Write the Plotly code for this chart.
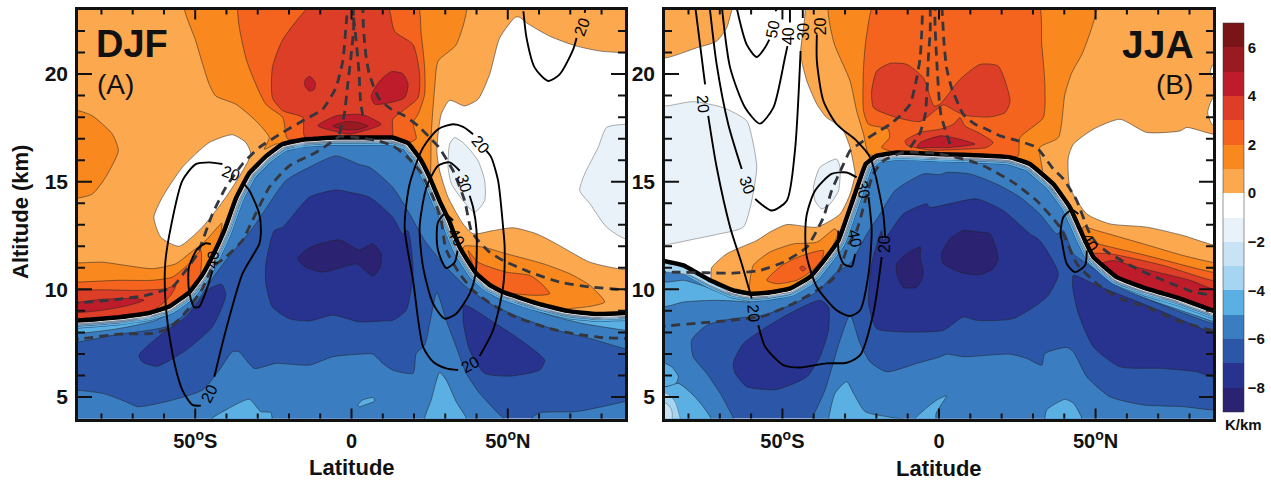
import plotly.graph_objects as go

# colour bands (K/km)
levels = [-8.5, -7.5, -6.5, -5.5, -4.5, -3.5, -2.5, -1.5, -0.5, 0.5, 1.5, 2.5, 3.5, 4.5, 5.5, 6.5]
colors = ['#2B2272', '#28328F', '#2C57A8', '#3B7DC1', '#5AB0E3', '#A5D5F1', '#C9E3F5', '#EAF2F9',
          '#FFFFFF', '#FBA84F', '#F9881F', '#F4641F', '#DD3E27', '#BE1C2B', '#991A20', '#7A1517']
C = {lv: c for lv, c in zip(levels, colors)}
cbar_ticks = [-8, -6, -4, -2, 0, 2, 4, 6]
lat_ticks = [-50, 0, 50]
lat_labels = ['50<sup>o</sup>S', '0', '50<sup>o</sup>N']
lat_minor = [-80, -70, -60, -40, -30, -20, -10, 10, 20, 30, 40, 60, 70, 80]
alt_ticks = [5, 10, 15, 20]
alt_minor = [6, 7, 8, 9, 11, 12, 13, 14, 16, 17, 18, 19, 21, 22]

# ---------- PANEL A (DJF) ----------
a_trop_lat = [-95, -87.5, -74.4, -64.7, -58.3, -52, -47.8, -44.6, -40.7, -36.9, -32.7, -27.2, -22, -15.7, -4.8, 3, 13, 18, 21.8, 25, 28.2, 31.2, 32.5, 34.6, 37.8, 40, 44.2, 48.5, 59.3, 68.9, 78.5, 87.5, 95]
a_trop_alt = [8.5, 8.55, 8.7, 8.9, 9.2, 9.85, 10.65, 11.5, 12.73, 14.25, 15.4, 16.2, 16.75, 16.95, 17.05, 17.05, 17.05, 16.8, 16.1, 15.2, 14.1, 13.2, 12.7, 11.96, 11.19, 10.72, 10.2, 9.87, 9.35, 9.0, 8.85, 8.9, 8.9]

# tropospheric regions, band -5.5
a_m5_bottom_lat = [-95, -79.7, -72.2, -68.5, -59.4, -47.7, -42.3, -38.1, -36, -31.1, -24.2, -13.5, -6, 2.5, 6.8, 10, 13.2, 19.7, 20.7, 23.4, 27.3, 30.3, 33.5, 36.7, 41, 47.4, 49.6, 49.6, -95]
a_m5_bottom_alt = [5.25, 5.17, 4.78, 4.55, 4.78, 5.32, 6.25, 7.1, 7.1, 6.33, 6.56, 6.48, 6.87, 6.99, 6.99, 6.56, 6.25, 6.1, 7.02, 7.41, 9.84, 8.56, 7.33, 6.1, 5.17, 4.17, 3.9, 3.5, 3.5]
a_m5_right_lat = [57.6, 60.2, 72, 82.7, 87.5, 95, 95, 57]
a_m5_right_alt = [4.01, 4.27, 4.32, 4.63, 4.78, 4.78, 3.5, 3.5]
a_m5_top_lat = [-95, -74.4, -59.4, -53, -47.7, -43.4, -40.2, -34.9, -32.2, -28.5, -21, -13.5, -5, 2.5, 5.8, 13.2, 18.6, 23.4, 29.3, 36.7, 45.3, 54.9, 65.6, 76.3, 87.5, 95, 95, -95]
a_m5_top_alt = [7.64, 7.92, 8.26, 8.87, 9.8, 10.72, 11.34, 12.27, 12.73, 13.5, 15.05, 15.67, 16.2, 15.8, 15.67, 14.74, 13.5, 12.27, 11.19, 10.11, 9.26, 8.64, 8.1, 7.72, 7.25, 7.2, 23, 23]
# band -4.5
a_m4_a_lat = [-45.5, -40.2, -32.7, -29, -25.8, -25.8, -45.5]
a_m4_a_alt = [3.9, 4.4, 4.89, 4.32, 4.27, 3.5, 3.5]
a_m4_b_lat = [2, 3.6, 6.9, 7.4, 4.2, 2.6]
a_m4_b_alt = [4.63, 4.86, 4.97, 4.81, 4.63, 4.55]
a_m4_c_lat = [23.4, 25.5, 28.2, 30.3, 33.5, 36.7, 36.7, 23.4]
a_m4_c_alt = [4.01, 4.86, 6.13, 5.79, 4.78, 4.01, 3.5, 3.5]
a_m4_sp_lat = [-52.5, -57.3, -62.6, -74.4, -87.2, -95]
a_m4_sp_alt = [9.8, 9.03, 8.56, 8.18, 7.95, 7.9]
a_m4_np_lat = [46.4, 54.9, 63.4, 74.1, 87.5, 95]
a_m4_np_alt = [9.88, 9.26, 8.8, 8.41, 8.1, 8.0]
# band -7.5
a_m7_c_lat = [-24.7, -27.4, -27.4, -25.3, -19.9, -13.5, -6, 2.5, 10, 13.2, 17.5, 19.7, 18, 16.4, 13.2, 5.8, -0.6, -5, -13.5, -22]
a_m7_c_alt = [12.73, 11.19, 10.26, 9.18, 8.64, 8.53, 8.8, 8.49, 8.53, 8.56, 9.03, 10.88, 12.73, 12.58, 13.35, 14.28, 14.51, 14.62, 14.28, 12.89]
a_m7_s_lat = [-68, -60.5, -53, -45.5, -41.5, -40.2, -44.5, -53, -62.1, -66.9]
a_m7_s_alt = [6.94, 7.95, 8.72, 10.03, 10.23, 9.72, 8.26, 7.17, 6.43, 6.63]
a_m7_n_lat = [36.2, 45.3, 54.9, 61.8, 60.2, 50.6, 42.6, 37.8, 35.7]
a_m7_n_alt = [9.26, 8.49, 7.56, 6.71, 6.25, 5.97, 6.1, 7.17, 8.56]
# band -8.5
a_m8_lat = [-17.2, -13.5, -3.9, 1.4, 2.56, 6.8, 9.5, 9, 6.8, 2.6, 1.4, -9.2, -14.6]
a_m8_alt = [11.42, 11.93, 12.3, 11.88, 11.83, 12.11, 11.65, 10.96, 10.62, 11.11, 11.19, 10.8, 11.03]

# stratospheric regions
a_w_lat = [-38.1, -33.8, -32.2, -35.4, -40.2, -47.7, -55.2, -61, -63.2, -60.5, -54.1, -45.5]
a_w_alt = [17.18, 16.82, 16.28, 15.36, 14.28, 12.89, 12, 12.42, 13.35, 14.28, 15.67, 16.82]
a_w_n_lat = [52.4, 47.4, 44.2, 40.5, 36.2, 31.4, 28.7, 27.3, 28.2, 30.9, 35.7, 38.9, 45.3, 51.7, 59.2, 65.6, 76.3, 87.5, 95, 95, 87.5, 79.5, 72, 63.4, 56, 53.8]
a_w_n_alt = [22.64, 21.68, 19.99, 18.83, 18.52, 18.78, 18.13, 16.44, 15.51, 14.28, 13.04, 12.58, 12.73, 12.86, 12.58, 12.11, 11.26, 10.91, 10.91, 21, 20.99, 21.07, 21.3, 21.76, 22.38, 22.64]
a_pale_n_lat = [31.4, 33, 36.2, 40.5, 42.6, 42.6, 39.4, 35.7, 32, 30.9]
a_pale_n_alt = [16.75, 17.05, 16.75, 15.97, 15.05, 14.12, 13.58, 14.12, 14.89, 15.66]
a_pale_e_lat = [87.5, 81.6, 78.9, 74.6, 73, 76.3, 81.6, 87.5, 95, 95]
a_pale_e_alt = [17.67, 17.52, 16.59, 15.36, 14.59, 13.97, 12.89, 12.35, 12.35, 17.67]
a_p1_w_lat = [-95, -87.2, -82.9, -76.5, -74.6, -78.7, -82.9, -87.2, -95]
a_p1_w_alt = [18.29, 18.29, 18.06, 17.21, 16.44, 15.2, 14.43, 14.25, 14.25]
a_p1_c_lat = [-24.2, -27.9, -26.3, -30.6, -37, -43.4, -45.5, -49.8, -53.5, 36.5, 33.5, 27.7, 26.6, 25.5, 25]
a_p1_c_alt = [16.75, 16.51, 17.05, 17.83, 18.6, 18.98, 19.52, 21.53, 23.5, 23.5, 21.37, 20.6, 19.37, 17.21, 15.2]
a_p2_c_lat = [-20.5, -22, -27.4, -33.8, -35.7, 20.5, 22.3, 23.4, 23.4, 21.3, 19.7, 20.7]
a_p2_c_alt = [17, 17.98, 18.6, 20.76, 23.5, 23.5, 21.84, 20.3, 19.06, 18.13, 17.75, 17.0]
a_p3_c_lat = [-15, -15.6, -22, -25.3, -25.3, -22, -10.5, 10.8, 13.8, 19.7, 21.8, 21.3, 16.4, 13.2, 13.2, 13]
a_p3_c_alt = [17.1, 17.98, 18.3, 18.9, 20.3, 21.6, 23.5, 23.5, 21.99, 21.37, 19.99, 18.9, 18.29, 17.9, 17.4, 17.1]
a_p4_dot_lat = [-13.3, -11.6, -11.9, -13.5, -14.9, -14.8]
a_p4_dot_alt = [19.89, 19.6, 19.29, 19.21, 19.45, 19.75]
a_p4_blob_lat = [6.3, 9, 12.7, 16.4, 18.1, 17, 12.2, 7.4]
a_p4_blob_alt = [18.98, 19.68, 20.11, 20.02, 19.52, 18.9, 18.67, 18.6]
a_p4_lens_lat = [-10.8, -4.9, 2.5, 4.7, 9.5, 5.8, -0.6, -5]
a_p4_lens_alt = [17.6, 18.06, 18.13, 18.06, 17.67, 17.44, 17.21, 17.33]
a_p5_lens_lat = [-6, -1.7, 2, 5.2, 2.6, -0.6, -2.8]
a_p5_lens_alt = [17.59, 17.79, 17.75, 17.59, 17.44, 17.41, 17.44]
a_n1_lat = [35.5, 36, 42.1, 49.6, 61.3, 69.9, 76.3, 81, 76.3, 68]
a_n1_alt = [11.6, 12, 11.96, 11.65, 11.19, 10.72, 10.18, 9.41, 9.21, 9.1]
a_n2_lat = [37.3, 40.5, 49.6, 57, 60.8, 63.4, 59.2, 49.6, 40]
a_n2_alt = [11.8, 11.26, 10.8, 10.65, 10.26, 9.8, 9.72, 9.88, 10.8]
a_s1_lat = [-95, -87.2, -79.7, -72.2, -63.7, -56.2, -52, -46.6, -41.5, -42]
a_s1_alt = [11.26, 11.23, 11.26, 11.11, 10.96, 11.19, 11.65, 12.27, 13.07, 12.5]
a_s2_lat = [-95, -87.2, -74.4, -63.7, -57.3, -52, -48.2, -48.5]
a_s2_alt = [10.34, 10.34, 10.42, 10.42, 10.57, 11.19, 11.8, 10.6]
a_s3_lat = [-95, -87.2, -79.7, -69, -59.4, -56.2, -57.8, -60.5]
a_s3_alt = [9.95, 9.95, 9.98, 9.95, 10.03, 10.18, 9.72, 9.34]
a_s4_lat = [-95, -87.2, -79.7, -69, -66.4, -71.2, -79.7, -87.2, -95]
a_s4_alt = [9.4, 9.41, 9.54, 9.57, 9.49, 9.26, 9.03, 8.92, 8.9]

# wind isotachs, panel A
a_w1_lat = [-41.3, -45.5, -49.8, -54.1, -57.8, -59.6, -59.4, -57.3, -54.1, -50.9, -48.2]
a_w1_alt = [15.82, 15.9, 15.82, 15.05, 12.89, 11.19, 9.18, 7.02, 5.32, 4.63, 4.6]
a_w2_lat = [-43.9, -40.2, -34.9, -29.5, -29, -29.5, -32.7, -34.9]
a_w2_alt = [5.94, 8.1, 10.72, 12.11, 12.58, 13.5, 14.59, 14.97]
a_w3_lat = [-45, -46.6, -49.3, -52, -52, -50.4, -48.8, -46.1, -44.5]
a_w3_alt = [12.1, 12.14, 11.88, 11.03, 9.95, 9.18, 9.18, 10.1, 10.88]
a_w4_lat = [38.9, 35.7, 32.5, 27.7, 22.9, 18.6, 17, 19.7, 22.9, 26.1, 30.3, 34.1]
a_w4_alt = [17.21, 17.55, 17.67, 17.44, 16.59, 14.89, 12.89, 10.42, 7.33, 6.64, 6.33, 6.25]
a_w5_lat = [41, 45.3, 48.5, 49, 48.5, 46.9, 44.7, 43.1]
a_w5_alt = [6.9, 8.1, 10.11, 11.96, 12.89, 15.05, 16.13, 16.44]
a_w6_lat = [34.6, 31.4, 27.7, 24, 21.8, 22.9, 26.1, 29.8, 33.5, 37.8, 39.7, 40, 38.9, 37.8]
a_w6_alt = [15.51, 15.9, 15.74, 14.74, 12.89, 11.03, 9.34, 8.64, 8.87, 9.8, 10.72, 12.73, 13.81, 14.35]
a_w7_lat = [32.5, 29.8, 27.7, 27.3, 27.7, 30.3, 33, 33.9]
a_w7_alt = [13.2, 13.5, 13.12, 12.73, 11.8, 10.99, 11.26, 11.8]
a_w8_lat = [55, 56, 58.6, 62.9, 66.6, 70.9, 72]
a_w8_alt = [22.92, 21.68, 20.3, 19.68, 19.99, 21.14, 21.68]
a_w9_lat = [74.6, 75]
a_w9_alt = [22.84, 23.2]
a_lab_txt = ['20', '20', '40', '20', '20', '30', '40', '20']
a_lab_lat = [-38.4, -45.5, -44.5, 41.3, 38, 36.2, 33.5, 73.6]
a_lab_alt = [15.39, 5.17, 11.4, 16.75, 6.53, 14.94, 12.4, 22.18]
a_lab_rot = [20, -62, -85, 50, -30, 75, 60, -70]

# dashed isentropes, panel A
a_d1_lat = [-95, -87.2, -74.4, -65.8, -57.3, -53, -49.3, -44.5, -40.2, -34.9, -29.5, -22, -15.6, -9.2, -5, -2.8, -1.8, -1.2]
a_d1_alt = [9.3, 9.37, 9.54, 9.72, 10.11, 10.88, 11.65, 13.5, 14.74, 15.82, 16.59, 17.29, 17.83, 18.37, 19.37, 20.6, 22.15, 23.2]
a_d2_lat = [95, 87.5, 76.3, 66.6, 57, 48.5, 44.2, 40.5, 38.3, 36.2, 32.5, 28, 24.5, 21.3, 17, 12.7, 9, 7, 5.6, 4.7, 4.2, 3.8, 3.6]
a_d2_alt = [9.98, 9.98, 10.11, 10.34, 10.8, 11.34, 11.73, 12.27, 12.73, 14.12, 15.51, 16.59, 17.13, 17.59, 18.06, 18.37, 18.83, 19.45, 20.06, 20.76, 21.45, 22.22, 23.2]
a_d3_lat = [-3.9, -2.3, -1.2, -0.2, 0.7, 0.5]
a_d3_alt = [17.21, 18.13, 19.52, 20.76, 22.15, 23.2]
a_d4_lat = [3.6, 2.9, 2.4, 2, 1, 0]
a_d4_alt = [18.06, 18.75, 20.06, 20.76, 22.22, 23.2]
a_d5_lat = [-95, -85.6, -74.4, -63.7, -58.4, -53, -47.7, -44.5, -40.2, -34.9, -31.7, -26.3, -19.9, -11.4, -6.6, -3.9, 2, 8.4, 13.2, 17.5, 21.8, 26.1, 28.7, 30, 31.4, 34.6, 38.9, 45.3, 52.8, 63.4, 72, 80.5, 87.5, 95]
a_d5_alt = [7.6, 7.72, 7.92, 7.95, 8.18, 8.95, 10.03, 11.03, 11.5, 12.27, 13.2, 14.74, 15.74, 16.36, 16.82, 17.1, 17.05, 16.9, 16.67, 16.2, 15.51, 14.28, 13.2, 11.96, 11.5, 10.72, 9.95, 9.26, 8.69, 8.18, 7.92, 7.76, 7.72, 7.7]

# ---------- PANEL B (JJA) ----------
b_trop_lat = [-95, -87.5, -81.6, -73.1, -65.7, -60.3, -55, -47.6, -41.2, -35.9, -32.1, -27.2, -23.4, -20, -13.5, 0.4, 7.8, 22.7, 29, 36.5, 41.8, 46.6, 49.3, 56.7, 66.3, 77, 87.1, 95]
b_trop_alt = [11.4, 11.31, 11.11, 10.42, 9.95, 9.8, 9.84, 10.03, 10.57, 11.5, 12.27, 14.28, 15.82, 16.2, 16.36, 16.28, 16.25, 16.13, 15.82, 14.89, 13.81, 12.27, 11.5, 10.57, 10.03, 9.57, 9.03, 8.6]

b_m5_top_lat = [-64.4, -69.9, -74.2, -78.5, -79, -74.2, -65.7, -56.1, -47.6, -39, -32.7, -28.4, -23, -18.8, -14, -5, 0.4, 2.4, 9.9, 18.4, 25.9, 32.2, 37.6, 39.7, 42.9, 47.2, 56.7, 66.3, 77, 87.6, 95, 95, -95, -95, -64.4]
b_m5_top_alt = [3.63, 5.17, 6.1, 6.87, 7.64, 8.33, 8.64, 8.8, 9.26, 9.88, 10.8, 11.19, 12.58, 13.5, 14.59, 15.36, 15.33, 15.43, 15.36, 14.89, 14.28, 13.5, 12.58, 12.73, 11.65, 11.19, 10.26, 9.57, 8.95, 8.41, 8.3, 23, 23, 3.5, 3.5]
b_m5_c_lat = [-40.6, -36.4, -31.6, -28.4, -25.2, -22, -16.7, -7.1, 0.4, 2.4, 7.75, 22.7, 28, 32.8, 33.8, 40.8, 42.9, 47.2, 54.6, 65.3, 78, 87.1, 95, 95, -40.6]
b_m5_c_alt = [3.93, 5.32, 7.64, 8.8, 7.48, 6.63, 6.17, 6.56, 6.87, 6.99, 6.87, 6.99, 6.79, 6.48, 7.02, 7.3, 7.1, 5.94, 5.01, 4.63, 4.55, 4.4, 4.4, 3.5, 3.5]
b_m4_l_lat = [-95, -86.4, -81.6, -74.2, -65.7, -60.3, -65.7, -72, -81.6, -87, -95]
b_m4_l_alt = [10.34, 10.34, 10.42, 10.11, 9.72, 9.41, 9.46, 9.49, 9.41, 9.21, 9.21]
b_m4_lobe_lat = [-95, -87.5, -85.4, -83.2, -84.3, -87.5, -95]
b_m4_lobe_alt = [6.56, 6.56, 6.4, 5.94, 5.56, 5.48, 5.48]
b_m4_low_lat = [-87, -83.2, -78.5, -75.3, -72.6, -72.6, -95, -95]
b_m4_low_alt = [5.48, 5.63, 5.09, 4.55, 3.93, 3.5, 3.5, 5.48]
b_m4_a_lat = [-35.3, -33.2, -29.5, -27.3, -23.6, -15.6, -9.8, -9.8, -35.3]
b_m4_a_alt = [3.93, 5.17, 5.71, 5.17, 4.32, 4.06, 3.9, 3.5, 3.5]
b_m4_b_lat = [-8.2, -8.2, -0.7, 2.4, 0.5, -1, -1]
b_m4_b_alt = [3.5, 3.9, 4.86, 5.05, 4.6, 4.2, 3.5]
b_m4_c_lat = [33.8, 34.4, 40.2, 42.9, 45.6, 45.6, 33.8]
b_m4_c_alt = [4.01, 4.4, 4.89, 4.71, 4.01, 3.5, 3.5]
b_m4_np_lat = [52, 56.7, 66.3, 77, 87.1, 95]
b_m4_np_alt = [10.9, 10.18, 9.57, 9.03, 8.53, 8.2]
b_m3_c_lat = [-95, -87, -84.3, -82.7, -82.7, -95]
b_m3_c_alt = [5, 5.17, 4.78, 4.01, 3.5, 3.5]
b_m2_c_lat = [-95, -87, -85.4, -85.4, -95]
b_m2_c_alt = [4.8, 4.7, 4.4, 3.9, 3.5]
b_m3_l_lat = [-95, -86.4, -79.5, -73.1, -66.7]
b_m3_l_alt = [10.8, 10.8, 10.65, 10.18, 9.8]
b_m7_c_lat = [-17.8, -11.4, -3.9, -2.9, 12, 20.5, 29, 32.2, 38.1, 34.4, 23.7, 12, 7.75, 1.4, -11.4, -19.9, -22.5, -21.5, -18.3]
b_m7_c_alt = [12.27, 13.5, 13.97, 13.81, 14.2, 13.66, 12.58, 12.27, 10.72, 9.64, 8.64, 8.56, 8.72, 8.1, 8.02, 8.18, 9.34, 11.19, 12.73]
b_m7_s_lat = [-65.7, -62.5, -49.7, -38, -35.3, -35.3, -38, -42.2, -51.8, -61.4, -65.1]
b_m7_s_alt = [6.56, 7.48, 8.72, 9.49, 9.18, 8.1, 6.87, 5.94, 5.35, 5.48, 6.1]
b_m7_n_lat = [42.9, 50.4, 61, 71.6, 87.1, 95, 95, 87.1, 82.3, 70.6, 57.8, 49.3, 44.5, 42.7]
b_m7_n_alt = [10.65, 10.18, 9.57, 8.95, 8.02, 8, 5.9, 5.94, 6.17, 6.33, 6.4, 7.33, 8.87, 10.1]
b_m8_a_lat = [-13.5, -10.3, -6, -6, -5, -7.1, -11.4, -13.5]
b_m8_a_alt = [11.19, 11.65, 11.96, 11.5, 10.72, 10.1, 10.1, 10.72]
b_m8_b_lat = [3.5, 7.75, 13, 16.3, 18.9, 17.3, 13.1, 7.75, 1.4, 0.8]
b_m8_b_alt = [12.34, 12.73, 12.66, 12.58, 11.42, 10.96, 10.69, 10.75, 11.19, 11.65]

b_w_s_lat = [-95, -87, -77.4, -71, -67.8, -64.4, -43.3, -44.2, -42.2, -39, -35.9, -31.6, -30, -28.4, -27.3, -26.8, -28.4, -31.6, -39, -48.6, -54, -58.2, -67.8, -72.6]
b_w_s_alt = [20.8, 20.76, 21.22, 21.53, 22.15, 23.5, 23.5, 20.91, 19.68, 18.6, 17.98, 17.59, 17.21, 16.59, 15.82, 15.36, 14.43, 13.5, 12.89, 13.01, 12.66, 12.27, 11.65, 11]
b_pale_a_lat = [-95, -87, -78.5, -68.9, -61.4, -59.3, -58.2, -59.8, -62.5, -71, -78, -87, -95]
b_pale_a_alt = [18.52, 18.52, 18.72, 18.44, 17.83, 16.75, 15.67, 14.12, 12.89, 12.55, 12.34, 12.08, 12.08]
b_pale_b_lat = [-40.1, -38, -32.7, -31.6, -32.1, -34.8, -37.5, -39.6]
b_pale_b_alt = [14.74, 15.67, 16.05, 15.67, 14.58, 13.97, 13.74, 14.12]
b_w_n_lat = [41.3, 42.9, 49.3, 57.8, 66.3, 77, 79.1, 87.6, 95, 95, 87.1, 78, 66.3, 54.6, 47.2, 41.8]
b_w_n_alt = [16.13, 16.74, 17.44, 17.9, 17.29, 17.36, 17.52, 17.21, 17.21, 11.9, 12.08, 12.5, 12.89, 13.04, 13.5, 14.74]
b_w_e1_lat = [95, 87.6, 86.6, 87.6, 95]
b_w_e1_alt = [20.4, 20.45, 20.1, 19.8, 19.8]
b_w_e2_lat = [95, 87.6, 85.8, 87.6, 95]
b_w_e2_alt = [19, 18.9, 18.2, 17.6, 17.6]
b_p1_c_lat = [-22.5, -24.1, -26.3, -28.4, -33.7, -34.8, 50, 46.1, 42.4, 40.2, 38.1, 32.2, 33]
b_p1_c_alt = [16.28, 17.21, 18.29, 19.68, 21.53, 23.5, 23.5, 21.07, 20.06, 19.06, 17.05, 16.59, 15.4]
b_p2_c_lat = [-18.3, -15.8, -16.2, -22.5, -24.1, -24.1, -23.1, -19.9, 31.2, 32.8, 33.8, 33.3, 25.9, 25.3]
b_p2_c_alt = [16.59, 17.05, 17.44, 17.67, 18.29, 20.3, 21.84, 23.5, 23.5, 21.37, 19.52, 17.98, 17.05, 16.2]
b_p3_top_lat = [-21.5, -19.9, -15.6, -10.3, -5, -1.6, 0.3, 6.7, 13.1, 18.9, 22.7, 21.1, 16.3, 9.3, 6.2, 1.4, -0.7, -6, -13.5, -20.9]
b_p3_top_alt = [19.21, 20.14, 20.5, 20.45, 19.83, 18.52, 18.6, 19.75, 20.45, 20.37, 18.75, 18.21, 18.01, 18.06, 18.21, 18.57, 18.37, 17.8, 17.98, 18.44]
b_p3_low_lat = [-10.8, -6, 0.4, 4.6, 6.7, 8.3, 12.5, 17.3, 15.2, 7.75, -2.9, -10.3]
b_p3_low_alt = [16.9, 17.29, 17.44, 17.67, 17.98, 17.59, 17.29, 16.82, 16.59, 16.51, 16.47, 16.71]
b_p4_lens_lat = [-6, 0.4, 3.5, 11.5, 3.5, -2.9, -7]
b_p4_lens_alt = [16.82, 17.13, 17.08, 16.75, 16.59, 16.59, 16.6]
b_n1_lat = [46, 50.4, 65.3, 78, 87.1, 95, 95]
b_n1_alt = [12.9, 12.73, 12.11, 11.57, 11.26, 11.1, 8.6]
b_n2_lat = [47.5, 50.9, 66.3, 87.1, 95, 95]
b_n2_alt = [12.3, 12.11, 11.57, 10.8, 10.65, 8.6]
b_n3_lat = [49, 54.6, 71.6, 87.1, 95, 95]
b_n3_alt = [11.65, 11.65, 11.11, 10.42, 10.3, 8.6]
b_n4_lat = [52, 55.7, 63.1, 80.2, 87.1, 95, 95]
b_n4_alt = [11.2, 11.34, 11.03, 10.42, 10.03, 9.9, 8.6]
b_s1_lat = [-60.3, -59.3, -54, -46.5, -39, -33.2, -32.3]
b_s1_alt = [9.88, 11.11, 11.73, 12.11, 12.19, 12.81, 12.6]
b_s2_lat = [-55, -50.2, -44.4, -36.9, -37.5, -41.2, -45.4, -51.8]
b_s2_alt = [10.42, 11.11, 11.53, 11.8, 11.34, 10.8, 10.42, 10.26]
b_s3_lat = [-44.5, -43.5, -42.5, -43.5]
b_s3_alt = [11, 11.08, 10.96, 10.85]

b_w1_lat = [-77.9, -76.3, -74.7]
b_w1_alt = [23.2, 21.37, 19.52]
b_w2_lat = [-73.7, -71, -66.7, -63, -59.8]
b_w2_alt = [18.06, 15.67, 12.89, 11.19, 9.57]
b_w3_lat = [-57.7, -55.5, -49.7, -44.4, -35.9, -29.5, -25.2, -21, -18.3]
b_w3_alt = [8.33, 7.33, 6.48, 6.37, 6.56, 6.59, 6.94, 8.87, 11.5]
b_w4_lat = [-17.2, -17.8, -22, -26.3, -32.7, -36.9, -39, -39]
b_w4_alt = [12.4, 13.5, 16.13, 16.9, 17.67, 18.75, 20.6, 21.84]
b_w5_lat = [-73.3, -71, -67.3, -63]
b_w5_alt = [23.2, 20.45, 17.67, 15.59]
b_w6_lat = [-58.7, -53.4, -48.6, -46, -44.2]
b_w6_alt = [14.2, 13.66, 14.12, 16.44, 21.07]
b_w7_lat = [-69.4, -66.7, -61.9, -57.2, -52.9, -49.2, -48.4]
b_w7_alt = [23.2, 20.3, 18.44, 17.7, 18.44, 20.76, 21.3]
b_w8_lat = [-64.8, -61.4, -58.2, -55.6, -54.2]
b_w8_alt = [23.2, 21.37, 20.79, 21.22, 21.6]
b_w9_lat = [-26.3, -29.5, -34.3, -39.6, -42.2, -42.7, -42.2, -39, -32.7, -28.4, -25.2, -22.5, -21.5, -22.5]
b_w9_alt = [15.2, 15.43, 15.36, 14.58, 13.5, 12.58, 11.5, 10.11, 9.03, 8.76, 9.03, 10.72, 12.73, 14.28]
b_w10_lat = [-32.1, -32.1, -30.5, -27.9, -26.8]
b_w10_alt = [12.73, 11.8, 11.19, 11.06, 11.65]
b_w11_lat = [44.5, 42.4, 39.7, 38.8, 39.2, 40.8, 43.4, 46.6, 47.2]
b_w11_alt = [13.5, 13.69, 13.35, 12.58, 12.27, 11.19, 10.8, 11.11, 11.8]
b_w12_lat = [-52, -52.4]
b_w12_alt = [22.92, 23.2]
b_w13_lat = [-47.6, -47.6]
b_w13_alt = [22.4, 23.2]
b_w14_lat = [-43.5, -43.5]
b_w14_alt = [22.6, 23.2]
b_lab_txt = ['20', '20', '20', '20', '30', '30', '40', '50', '30', '40', '40']
b_lab_lat = [-75.3, -59.3, -17.2, -38, -61.2, -43.3, -48, -53.1, -24.1, -27, 48.2]
b_lab_alt = [18.6, 8.87, 12.11, 22.22, 14.82, 21.99, 21.75, 22.07, 14.66, 12.34, 12.19]
b_lab_rot = [85, 85, -90, -90, 70, -90, -90, -80, 80, 80, 60]

b_d1_lat = [-95, -84.8, -74.2, -65.7, -57.2, -49.7, -42.2, -36.9, -34.3, -30.5, -28.4, -24.1, -19.9, -15.6, -12.4, -9.2, -7.1, -6, -5.5, -5.2]
b_d1_alt = [10.8, 10.8, 10.77, 10.75, 10.88, 11.26, 11.96, 13.35, 14.58, 15.82, 16.44, 16.9, 17.29, 17.67, 18.06, 18.6, 19.83, 20.76, 22, 23.2]
b_d2_lat = [-9.2, -6, -4.4, -3.7, -3.4, -2.8, -2.8]
b_d2_alt = [16.59, 17.29, 18.13, 19.52, 20.76, 22, 23.2]
b_d3_lat = [3.5, 1.9, 0.6, 0.1, -0.6, -1, -1.3, -1.3]
b_d3_alt = [16.75, 17.44, 18.13, 18.75, 20.3, 21.37, 22.45, 23.2]
b_d4_lat = [95, 87.6, 81.2, 71.6, 63.1, 54.6, 50.4, 47.7, 44, 39.7, 36.5, 31.2, 25.3, 19.5, 15.2, 11.5, 7.75, 4, 2.4, 1.6, 1.2, 0.9]
b_d4_alt = [9.6, 9.72, 9.88, 10.42, 10.96, 11.65, 12.11, 12.73, 14.12, 15.13, 15.59, 16.59, 16.9, 17.13, 17.44, 17.67, 18.13, 19.37, 20.3, 21.45, 22.45, 23.2]
b_d5_lat = [-95, -87, -76.3, -66.7, -56.1, -46.5, -39, -34.3, -31.6, -28.9, -26.3, -21, -17.8, -11.4, 0, 9.9, 15.2, 23.7, 31.2, 38.6, 44, 50.4, 57.8, 66.3, 75.9, 87.1, 95]
b_d5_alt = [8.2, 8.3, 8.44, 8.56, 8.75, 9.34, 9.95, 10.42, 10.96, 12.1, 12.73, 15.36, 15.97, 16.36, 16.3, 15.97, 15.67, 14.97, 14.12, 12.89, 11.19, 10.26, 9.57, 9.18, 8.56, 8.1, 7.9]

# ---------- drawing ----------
EDGE = 'rgba(35,35,35,0.75)'
fig = go.Figure()


def onto_tropo(lats, alts, tlat, talt):
    a, b = lats[0], lats[-1]
    seg = [(x, y) for x, y in zip(tlat, talt) if min(a, b) < x < max(a, b)]
    seg.sort(key=lambda p: p[0], reverse=b > a)
    return lats + [p[0] for p in seg], alts + [p[1] for p in seg]


def region(xa, ya, band, lats, alts, tropo=None):
    if tropo is not None:
        lats, alts = onto_tropo(lats, alts, *tropo)
    edge = 'rgba(110,110,110,0.8)' if band in (-1.5, -2.5, -3.5) else EDGE
    fig.add_trace(go.Scatter(x=lats + lats[:1], y=alts + alts[:1], xaxis=xa, yaxis=ya, mode='lines',
                             fill='toself', fillcolor=C[band], hoverinfo='skip', showlegend=False,
                             line=dict(color=edge, width=0.7, shape='spline', smoothing=0.6)))


def curve(xa, ya, lats, alts, color, width, dash='solid', smooth=0.7):
    fig.add_trace(go.Scatter(x=lats, y=alts, xaxis=xa, yaxis=ya, mode='lines', hoverinfo='skip', showlegend=False,
                             line=dict(color=color, width=width, dash=dash, shape='spline', smoothing=smooth)))


def bands(xa, ya, tlat, talt):
    for band, w in [(-4.5, 15), (-3.5, 11), (-2.5, 9), (-1.5, 7.5), (-0.5, 6)]:
        curve(xa, ya, tlat, talt, 'rgba(30,50,80,0.8)', w + 0.8, smooth=0.3)
        curve(xa, ya, tlat, talt, C[band], w, smooth=0.3)


def strat_base(xa, ya, tlat, talt):
    fig.add_trace(go.Scatter(x=tlat + [95, -95], y=talt + [24, 24], xaxis=xa, yaxis=ya, mode='lines', fill='toself',
                             fillcolor=C[0.5], hoverinfo='skip', showlegend=False,
                             line=dict(color=C[0.5], width=0.5, shape='spline', smoothing=0.3)))


# panel A
ta = (a_trop_lat, a_trop_alt)
for band, la, al, tr in [(-5.5, a_m5_bottom_lat, a_m5_bottom_alt, None), (-5.5, a_m5_right_lat, a_m5_right_alt, None),
                         (-5.5, a_m5_top_lat, a_m5_top_alt, None), (-4.5, a_m4_a_lat, a_m4_a_alt, None), (-4.5, a_m4_b_lat, a_m4_b_alt, None),
                         (-4.5, a_m4_c_lat, a_m4_c_alt, None), (-4.5, a_m4_sp_lat, a_m4_sp_alt, ta), (-4.5, a_m4_np_lat, a_m4_np_alt, ta),
                         (-7.5, a_m7_c_lat, a_m7_c_alt, None), (-7.5, a_m7_s_lat, a_m7_s_alt, None),
                         (-7.5, a_m7_n_lat, a_m7_n_alt, None), (-8.5, a_m8_lat, a_m8_alt, None)]:
    region('x', 'y', band, la, al, tr)
bands('x', 'y', a_trop_lat, a_trop_alt)
strat_base('x', 'y', a_trop_lat, a_trop_alt)
for band, la, al, tr in [(-0.5, a_w_lat, a_w_alt, None), (-0.5, a_w_n_lat, a_w_n_alt, None), (-1.5, a_pale_n_lat, a_pale_n_alt, None),
                         (-1.5, a_pale_e_lat, a_pale_e_alt, None), (1.5, a_p1_w_lat, a_p1_w_alt, None),
                         (1.5, a_p1_c_lat, a_p1_c_alt, ta), (2.5, a_p2_c_lat, a_p2_c_alt, ta), (3.5, a_p3_c_lat, a_p3_c_alt, ta),
                         (4.5, a_p4_dot_lat, a_p4_dot_alt, None), (4.5, a_p4_blob_lat, a_p4_blob_alt, None),
                         (4.5, a_p4_lens_lat, a_p4_lens_alt, None), (5.5, a_p5_lens_lat, a_p5_lens_alt, None),
                         (1.5, a_n1_lat, a_n1_alt, ta), (2.5, a_n2_lat, a_n2_alt, None),
                         (1.5, a_s1_lat, a_s1_alt, ta), (2.5, a_s2_lat, a_s2_alt, ta), (3.5, a_s3_lat, a_s3_alt, ta),
                         (4.5, a_s4_lat, a_s4_alt, None)]:
    region('x', 'y', band, la, al, tr)
curve('x', 'y', a_trop_lat, a_trop_alt, '#000000', 4.5, smooth=0.3)
for la, al in [(a_d1_lat, a_d1_alt), (a_d2_lat, a_d2_alt), (a_d3_lat, a_d3_alt), (a_d4_lat, a_d4_alt), (a_d5_lat, a_d5_alt)]:
    curve('x', 'y', la, al, '#35353D', 2.8, dash='9px,6px', smooth=0.5)
for la, al in [(a_w1_lat, a_w1_alt), (a_w2_lat, a_w2_alt), (a_w3_lat, a_w3_alt), (a_w4_lat, a_w4_alt), (a_w5_lat, a_w5_alt),
               (a_w6_lat, a_w6_alt), (a_w7_lat, a_w7_alt), (a_w8_lat, a_w8_alt), (a_w9_lat, a_w9_alt)]:
    curve('x', 'y', la, al, '#000000', 1.9)

# panel B
tb = (b_trop_lat, b_trop_alt)
for band, la, al, tr in [(-5.5, b_m5_top_lat, b_m5_top_alt, None), (-5.5, b_m5_c_lat, b_m5_c_alt, None), (-4.5, b_m4_l_lat, b_m4_l_alt, None),
                         (-4.5, b_m4_lobe_lat, b_m4_lobe_alt, None), (-4.5, b_m4_low_lat, b_m4_low_alt, None), (-4.5, b_m4_a_lat, b_m4_a_alt, None),
                         (-4.5, b_m4_b_lat, b_m4_b_alt, None), (-4.5, b_m4_c_lat, b_m4_c_alt, None), (-4.5, b_m4_np_lat, b_m4_np_alt, tb),
                         (-3.5, b_m3_c_lat, b_m3_c_alt, None), (-2.5, b_m2_c_lat, b_m2_c_alt, None), (-7.5, b_m7_c_lat, b_m7_c_alt, None),
                         (-7.5, b_m7_s_lat, b_m7_s_alt, None), (-7.5, b_m7_n_lat, b_m7_n_alt, None),
                         (-8.5, b_m8_a_lat, b_m8_a_alt, None), (-8.5, b_m8_b_lat, b_m8_b_alt, None)]:
    region('x2', 'y2', band, la, al, tr)
bands('x2', 'y2', b_trop_lat, b_trop_alt)
region('x2', 'y2', -3.5, b_m3_l_lat, b_m3_l_alt, tb)
strat_base('x2', 'y2', b_trop_lat, b_trop_alt)
for band, la, al, tr in [(-0.5, b_w_s_lat, b_w_s_alt, tb), (-1.5, b_pale_a_lat, b_pale_a_alt, None), (-1.5, b_pale_b_lat, b_pale_b_alt, None),
                         (-0.5, b_w_n_lat, b_w_n_alt, None), (-0.5, b_w_e1_lat, b_w_e1_alt, None), (-0.5, b_w_e2_lat, b_w_e2_alt, None),
                         (1.5, b_p1_c_lat, b_p1_c_alt, tb), (2.5, b_p2_c_lat, b_p2_c_alt, tb), (3.5, b_p3_top_lat, b_p3_top_alt, None),
                         (3.5, b_p3_low_lat, b_p3_low_alt, None), (4.5, b_p4_lens_lat, b_p4_lens_alt, None),
                         (1.5, b_n1_lat, b_n1_alt, tb), (2.5, b_n2_lat, b_n2_alt, tb), (3.5, b_n3_lat, b_n3_alt, tb), (4.5, b_n4_lat, b_n4_alt, tb),
                         (1.5, b_s1_lat, b_s1_alt, tb), (2.5, b_s2_lat, b_s2_alt, None), (3.5, b_s3_lat, b_s3_alt, None)]:
    region('x2', 'y2', band, la, al, tr)
curve('x2', 'y2', b_trop_lat, b_trop_alt, '#000000', 4.5, smooth=0.3)
for la, al in [(b_d1_lat, b_d1_alt), (b_d2_lat, b_d2_alt), (b_d3_lat, b_d3_alt), (b_d4_lat, b_d4_alt), (b_d5_lat, b_d5_alt)]:
    curve('x2', 'y2', la, al, '#35353D', 2.8, dash='9px,6px', smooth=0.5)
for la, al in [(b_w1_lat, b_w1_alt), (b_w2_lat, b_w2_alt), (b_w3_lat, b_w3_alt), (b_w4_lat, b_w4_alt), (b_w5_lat, b_w5_alt),
               (b_w6_lat, b_w6_alt), (b_w7_lat, b_w7_alt), (b_w8_lat, b_w8_alt), (b_w9_lat, b_w9_alt), (b_w10_lat, b_w10_alt),
               (b_w11_lat, b_w11_alt), (b_w12_lat, b_w12_alt), (b_w13_lat, b_w13_alt), (b_w14_lat, b_w14_alt)]:
    curve('x2', 'y2', la, al, '#000000', 1.9)

# colour bar
W, H = 1271, 480
stepped = []
for i, c in enumerate(colors):
    stepped += [[i / 16, c], [(i + 1) / 16, c]]
fig.add_trace(go.Scatter(x=[500] * 16, y=[500] * 16, mode='markers', hoverinfo='skip', showlegend=False,
                         marker=dict(color=levels, cmin=-9, cmax=7, colorscale=stepped, showscale=True, size=1,
                                     colorbar=dict(x=1222.7 / W, xanchor='left', y=(H - 412) / H, yanchor='bottom',
                                                   thickness=21, len=389, lenmode='pixels', ypad=0, xpad=0,
                                                   tickmode='array', tickvals=cbar_ticks, ticklen=0,
                                                   tickfont=dict(family='Liberation Sans', size=15, weight='bold', color='#111'),
                                                   outlinewidth=0.5, outlinecolor='#333'))))

ann = []
for txt, la, al, rot in zip(a_lab_txt, a_lab_lat, a_lab_alt, a_lab_rot):
    ann.append(dict(text=txt, x=la, y=al, xref='x', yref='y', textangle=rot, showarrow=False,
                    font=dict(family='Liberation Sans', size=16, color='#000')))
for txt, la, al, rot in zip(b_lab_txt, b_lab_lat, b_lab_alt, b_lab_rot):
    ann.append(dict(text=txt, x=la, y=al, xref='x2', yref='y2', textangle=rot, showarrow=False,
                    font=dict(family='Liberation Sans', size=16, color='#000')))
BF = 'Liberation Sans'


def paper(txt, px, py, size, weight='normal', angle=0):
    ann.append(dict(text=txt, x=px / W, y=1 - py / H, xref='paper', yref='paper', showarrow=False, textangle=angle,
                    xanchor='center', yanchor='middle', font=dict(family=BF, size=size, weight=weight, color='#111')))


paper('DJF', 132, 44, 38, 'bold')
paper('(A)', 115, 84, 28)
paper('JJA', 1158, 44, 39, 'bold')
paper('(B)', 1174, 84, 28)
paper('Latitude', 352, 467, 22, 'bold')
paper('Latitude', 939, 468, 22, 'bold')
paper('Altitude (km)', 20, 212, 22, 'bold', -90)
paper('K/km', 1243, 424, 15, 'bold')

# tick marks on all four sides of both panels
PW, PH = 547.0, 409.0
shapes = []


def tick_marks(xa, ya):
    for vals, length in [(lat_ticks, 10), (lat_minor, 5)]:
        for v in vals:
            for y0, y1 in [(0, length / PH), (1, 1 - length / PH)]:
                shapes.append(dict(type='line', xref=xa, yref=ya + ' domain', x0=v, x1=v, y0=y0, y1=y1,
                                   line=dict(color='#111', width=2), layer='above'))
    for vals, length in [(alt_ticks, 14), (alt_minor, 7)]:
        for v in vals:
            for x0, x1 in [(0, length / PW), (1, 1 - length / PW)]:
                shapes.append(dict(type='line', xref=xa + ' domain', yref=ya, x0=x0, x1=x1, y0=v, y1=v,
                                   line=dict(color='#111', width=2), layer='above'))


tick_marks('x', 'y')
tick_marks('x2', 'y2')

xax = dict(range=[-87.5, 87.5], tickmode='array', tickvals=lat_ticks, ticktext=lat_labels, ticks='', ticklabelstandoff=3,
           linecolor='#111', linewidth=2.5, mirror=True, showgrid=False, zeroline=False,
           tickfont=dict(family=BF, size=20, weight='bold', color='#111'))
yax = dict(range=[4, 23], tickmode='array', tickvals=alt_ticks, ticks='', ticklabelstandoff=3,
           linecolor='#111', linewidth=2.5, mirror=True, showgrid=False, zeroline=False,
           tickfont=dict(family=BF, size=21, weight='bold', color='#111'))
dom_y = [(H - 418.5) / H, (H - 9.5) / H]
fig.update_layout(width=W, height=H, autosize=False, margin=dict(l=0, r=0, t=0, b=0), paper_bgcolor='white',
                  plot_bgcolor=C[-6.5], showlegend=False, annotations=ann, shapes=shapes,
                  xaxis=dict(xax, domain=[78 / W, 625 / W], anchor='y'),
                  yaxis=dict(yax, domain=dom_y, anchor='x'),
                  xaxis2=dict(xax, domain=[665 / W, 1213 / W], anchor='y2'),
                  yaxis2=dict(yax, domain=dom_y, anchor='x2'))
fig.write_html("out.html", config={'displayModeBar': False}, post_script="document.body.style.margin='0';")
